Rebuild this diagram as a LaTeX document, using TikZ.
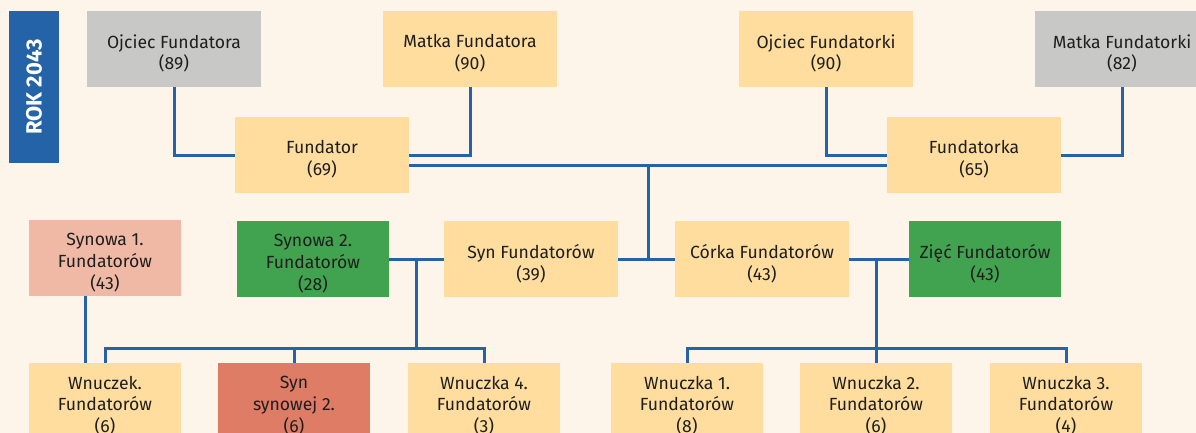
\documentclass[tikz,border=0pt]{standalone}
\usepackage{fontspec}
\setmainfont{Fira Sans}
\usetikzlibrary{calc}
\definecolor{bg}{HTML}{FDF5EA}
\definecolor{peach}{HTML}{FEDD9E}
\definecolor{greybox}{HTML}{C8C8C6}
\definecolor{salmon}{HTML}{EFB9A6}
\definecolor{greenbox}{HTML}{41A34F}
\definecolor{redbox}{HTML}{DE7C66}
\definecolor{bluec}{HTML}{2563A8}
\definecolor{txt}{HTML}{1E1E1E}
\tikzset{
  persontext/.style={align=center, text=txt, inner sep=0pt, yshift=-4.5pt,
    font=\fontsize{17.6}{21.8}\selectfont},
  person/.style={rectangle, draw=none, inner sep=0pt, minimum width=174pt, minimum height=76pt,
    fill=peach},
  narrow/.style={person, minimum width=152pt},
  txt/.style={label={[persontext]center:{#1}}},
  link/.style={draw=bluec, line width=3pt}
}
\begin{document}
\begin{tikzpicture}[x=1pt, y=-1pt]
\fill[bg] (0,0) rectangle (1196,433);
\useasboundingbox (0,0) rectangle (1196,433);
\begin{scope}
\clip (0,0) rectangle (1196,433);
% year label
\node[rectangle, fill=bluec, minimum width=50pt, minimum height=152pt, inner sep=0pt,
  label={[text=white, rotate=90, font=\bfseries\fontsize{22}{26}\selectfont]center:ROK 2043}] (rok) at (34,87) {};
% grandparents
\node[person, fill=greybox, txt={Ojciec Fundatora\\(89)}] (ojf) at (174,49) {};
\node[person, txt={Matka Fundatora\\(90)}] (mfa) at (470,49) {};
\node[person, txt={Ojciec Fundatorki\\(90)}] (ojk) at (826,49) {};
\node[person, fill=greybox, txt={Matka Fundatorki\\(82)}] (mfk) at (1122,49) {};
% founders
\node[person, txt={Fundator\\(69)}] (fundator) at (322,155) {};
\node[person, txt={Fundatorka\\(65)}] (fundatorka) at (974,155) {};
% children generation
\node[narrow, fill=salmon, txt={Synowa 1.\\Fundatorów\\(43)}] (syn1) at (105,258) {};
\node[narrow, fill=greenbox, txt={Synowa 2.\\Fundatorów\\(28)}] (syn2) at (313,259) {};
\node[person, txt={Syn Fundatorów\\(39)}] (syn) at (531,259) {};
\node[person, txt={Córka Fundatorów\\(43)}] (corka) at (762,259) {};
\node[narrow, fill=greenbox, txt={Zięć Fundatorów\\(43)}] (ziec) at (985,259) {};
% grandchildren
\node[narrow, txt={Wnuczek.\\Fundatorów\\(6)}] (wnuczek) at (105,401) {};
\node[narrow, fill=redbox, txt={Syn\\synowej 2.\\(6)}] (synsyn) at (294,401) {};
\node[narrow, txt={Wnuczka 4.\\Fundatorów\\(3)}] (wn4) at (484,401) {};
\node[narrow, txt={Wnuczka 1.\\Fundatorów\\(8)}] (wn1) at (687,401) {};
\node[narrow, txt={Wnuczka 2.\\Fundatorów\\(6)}] (wn2) at (876,401) {};
\node[narrow, txt={Wnuczka 3.\\Fundatorów\\(4)}] (wn3) at (1066,401) {};
% connectors: grandparents to founders
\draw[link] (ojf.south) |- (fundator.west);
\draw[link] (mfa.south) |- (fundator.east);
\draw[link] (ojk.south) |- (fundatorka.west);
\draw[link] (mfk.south) |- (fundatorka.east);
% founders marriage line
\coordinate (fl) at ($(fundator.east)+(0,10)$);
\coordinate (fr) at ($(fundatorka.west)+(0,10)$);
\draw[link] (fl) -- (fr);
\coordinate (fm) at ($(fl)!0.5!(fr)$);
\draw[link] (syn.east) -- (corka.west);
\draw[link] (fm) -- (fm |- syn.east);
% left family
\draw[link] (syn2.east) -- (syn.west);
\coordinate (lm) at ($(syn2.east)!0.5!(syn.west)$);
\coordinate (lbar) at ($(lm |- wn4.north)+(0,-14)$);
\draw[link] (lm) -- (lbar);
\draw[link] (wnuczek.north) -- (wnuczek.north |- lbar) -- (wn4.north |- lbar) -- (wn4.north);
\draw[link] (synsyn.north |- lbar) -- (synsyn.north);
\coordinate (s1b) at ($(syn1.south)+(-20,0)$);
\draw[link] (s1b) -- (s1b |- wnuczek.north);
% right family
\draw[link] (corka.east) -- (ziec.west);
\coordinate (rm) at (wn2.north |- corka.east);
\coordinate (rbar) at ($(wn2.north)+(0,-14)$);
\draw[link] (rm) -- (wn2.north);
\draw[link] (wn1.north) -- (wn1.north |- rbar) -- (wn3.north |- rbar) -- (wn3.north);
\end{scope}
\end{tikzpicture}
\end{document}
